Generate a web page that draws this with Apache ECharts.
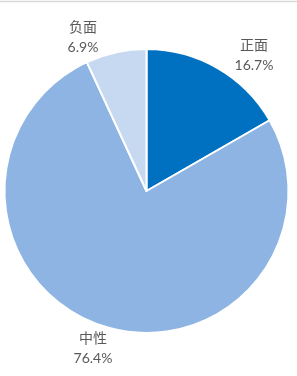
<!DOCTYPE html>
<html>
<head>
<meta charset="utf-8">
<script src="https://cdn.jsdelivr.net/npm/echarts@6/dist/echarts.min.js"></script>
<style>
html,body{margin:0;padding:0;background:#fff;}
#chart{width:297px;height:376px;}
</style>
</head>
<body>
<div id="chart"></div>
<script>
const categories = ['正面', '中性', '负面'];
const values = [16.7, 76.4, 6.9];
const colors = ['#0070C0', '#8EB4E3', '#C6D9F1'];
const labelPos = [[254, 55], [93, 348], [83, 37]];

const chart = echarts.init(document.getElementById('chart'), null, {renderer: 'canvas'});
chart.setOption({
  animation: false,
  backgroundColor: '#ffffff',
  graphic: [{
    type: 'line',
    shape: {x1: 0, y1: 1.5, x2: 297, y2: 1.5},
    style: {stroke: '#D9D9D9', lineWidth: 1.5}
  }],
  series: [{
    type: 'pie',
    center: [146.5, 191],
    radius: 142,
    startAngle: 90,
    clockwise: true,
    data: categories.map((c, i) => ({name: c, value: values[i], itemStyle: {color: colors[i]}})),
    itemStyle: {borderColor: '#ffffff', borderWidth: 2},
    label: {
      show: true,
      position: 'outside',
      alignTo: 'none',
      overflow: 'none',
      formatter: p => p.name + '\n' + p.value.toFixed(1) + '%',
      color: '#595959',
      fontSize: 14,
      lineHeight: 20,
      fontFamily: 'Lato, "Noto Sans CJK SC", sans-serif',
      align: 'center'
    },
    labelLine: {show: false},
    labelLayout: function (params) {
      const pos = labelPos[params.dataIndex];
      return {x: pos[0], y: pos[1], align: 'center', verticalAlign: 'middle'};
    },
    emphasis: {disabled: true}
  }]
});
</script>
</body>
</html>
